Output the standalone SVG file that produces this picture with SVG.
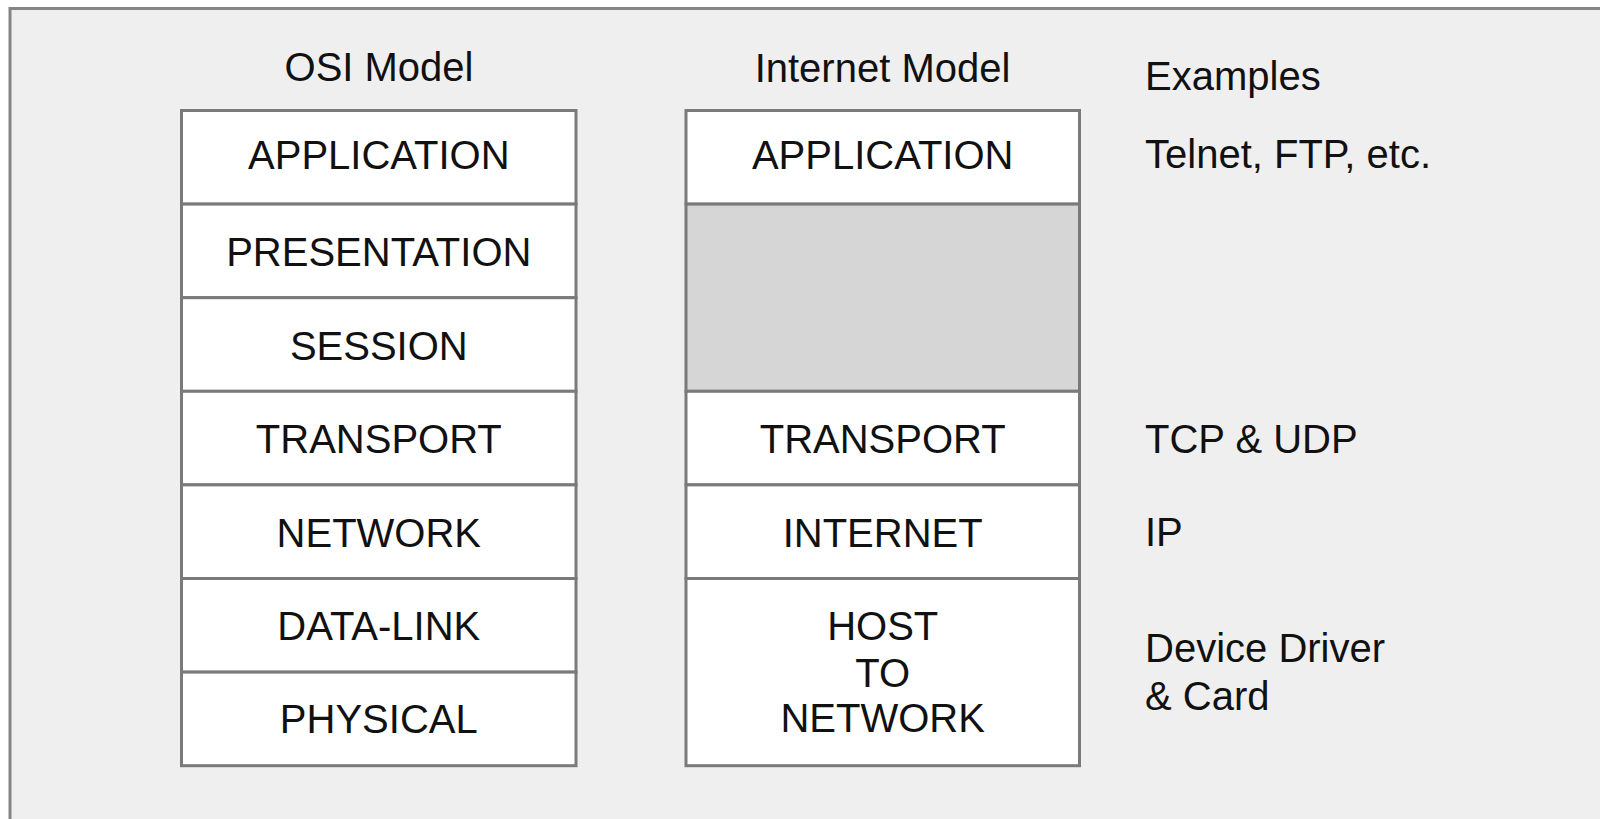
<svg xmlns="http://www.w3.org/2000/svg" width="1600" height="819" viewBox="0 0 1600 819">
  <style>
    .frame { fill: #efefef; stroke: #858585; stroke-width: 3; }
    .layer { fill: #ffffff; stroke: #7a7a7a; stroke-width: 3; }
    .empty { fill: #d6d6d6; stroke: #7a7a7a; stroke-width: 3; }
    text { font-family: "Liberation Sans", Arial, sans-serif; font-size: 40px; fill: #111111; }
    .c { text-anchor: middle; }
  </style>

  <!-- page background and panel frame -->
  <rect x="0" y="0" width="1600" height="819" fill="#ffffff"/>
  <rect class="frame" x="10" y="8.5" width="1600" height="830"/>

  <!-- column headings -->
  <text class="c" x="379" y="81">OSI Model</text>
  <text class="c" x="882.5" y="81.5">Internet Model</text>
  <text x="1145" y="90">Examples</text>

  <!-- OSI stack -->
  <g id="osi-application"><rect class="layer" x="181.5" y="110.5" width="394.5" height="93.6"/><text class="c" x="378.8" y="169">APPLICATION</text></g>
  <g id="osi-presentation"><rect class="layer" x="181.5" y="204.1" width="394.5" height="93.6"/><text class="c" x="378.8" y="266">PRESENTATION</text></g>
  <g id="osi-session"><rect class="layer" x="181.5" y="297.7" width="394.5" height="93.6"/><text class="c" x="378.8" y="360">SESSION</text></g>
  <g id="osi-transport"><rect class="layer" x="181.5" y="391.3" width="394.5" height="93.6"/><text class="c" x="378.8" y="453.3">TRANSPORT</text></g>
  <g id="osi-network"><rect class="layer" x="181.5" y="484.9" width="394.5" height="93.6"/><text class="c" x="378.8" y="546.7">NETWORK</text></g>
  <g id="osi-datalink"><rect class="layer" x="181.5" y="578.5" width="394.5" height="93.6"/><text class="c" x="378.8" y="640">DATA-LINK</text></g>
  <g id="osi-physical"><rect class="layer" x="181.5" y="672.1" width="394.5" height="93.6"/><text class="c" x="378.8" y="733.3">PHYSICAL</text></g>

  <!-- Internet stack -->
  <g id="inet-application"><rect class="layer" x="686" y="110.5" width="393.5" height="93.6"/><text class="c" x="882.7" y="169">APPLICATION</text></g>
  <g id="inet-gap"><rect class="empty" x="686" y="204.1" width="393.5" height="187.2"/></g>
  <g id="inet-transport"><rect class="layer" x="686" y="391.3" width="393.5" height="93.6"/><text class="c" x="882.7" y="453.3">TRANSPORT</text></g>
  <g id="inet-internet"><rect class="layer" x="686" y="484.9" width="393.5" height="93.6"/><text class="c" x="882.7" y="546.7">INTERNET</text></g>
  <g id="inet-host"><rect class="layer" x="686" y="578.5" width="393.5" height="187.2"/>
    <text class="c" x="882.7" y="640">HOST</text>
    <text class="c" x="882.7" y="686.5">TO</text>
    <text class="c" x="882.7" y="732.3">NETWORK</text>
  </g>

  <!-- examples column -->
  <g id="examples">
    <text x="1145" y="167.7" font-size="41">Telnet, FTP, etc.</text>
    <text x="1145" y="453.3">TCP &amp; UDP</text>
    <text x="1145" y="546">IP</text>
    <text x="1145" y="661.7">Device Driver</text>
    <text x="1145" y="710">&amp; Card</text>
  </g>

  <g id="connectors"/>
</svg>
